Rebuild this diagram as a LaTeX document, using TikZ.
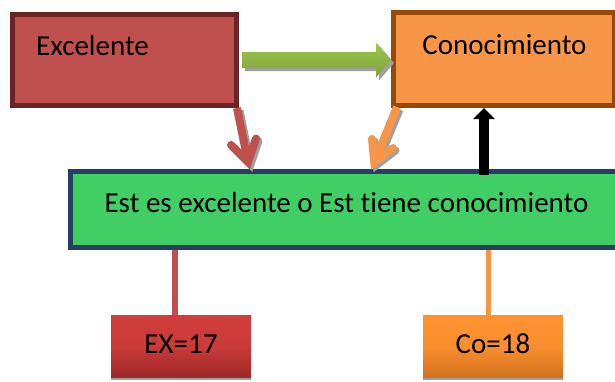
\documentclass[tikz,border=0pt]{standalone}
\usepackage{fontspec}
\setmainfont{Carlito}[Ligatures={NoCommon,NoContextual}]
\usetikzlibrary{calc,arrows.meta}
\definecolor{exfill}{RGB}{192,80,77}
\definecolor{exline}{RGB}{106,36,36}
\definecolor{cofill}{RGB}{247,150,70}
\definecolor{coline}{RGB}{152,72,7}
\definecolor{gfill}{RGB}{64,206,101}
\definecolor{gline}{RGB}{37,62,98}
\definecolor{arrtop}{RGB}{158,196,82}
\definecolor{arrbot}{RGB}{126,164,56}
\definecolor{shadowgray}{RGB}{160,160,160}
\definecolor{rtop}{RGB}{209,62,60}
\definecolor{rbot}{RGB}{154,40,40}
\definecolor{otop}{RGB}{255,147,48}
\definecolor{obot}{RGB}{209,111,30}
\begin{document}
\begin{tikzpicture}[x=1pt,y=-1pt,
  box/.style={rectangle, inner sep=0pt, outer sep=0pt, line width=5pt},
  valbox/.style={rectangle, inner sep=0pt, outer sep=0pt, minimum width=140pt, minimum height=64pt,
    path picture={\draw[line width=1.5pt, shadowgray] (path picture bounding box.south west) -- (path picture bounding box.south east);}},
  lbl/.style={inner sep=0pt, anchor=base, font=\fontsize{29}{34}\selectfont},
  shaftline/.style={line width=8pt, line cap=butt},
  chevron/.style={line width=8pt, line cap=round, line join=miter},
  shadowcopy/.style={draw=shadowgray, transform canvas={shift={(2.5pt,-2.5pt)}}},
  link/.style={line width=#1},
]
\useasboundingbox (0,0) rectangle (615,381);
\clip (0,0) rectangle (615,381);

% boxes
\node[box, fill=exfill, draw=exline, minimum width=224pt, minimum height=91pt] (exb) at (124.5,60) {};
\node[box, fill=cofill, draw=coline, minimum width=221pt, minimum height=93pt] (conb) at (504,59) {};
\node[box, fill=gfill, draw=gline, minimum width=567pt, minimum height=76pt] (gb) at (354,209.5) {};
\node[valbox, top color=rtop, bottom color=rbot, middle color=rtop!85!rbot] (exv) at (181,347) {};
\node[valbox, top color=otop, bottom color=obot, middle color=otop!85!obot] (cov) at (493,347) {};

% texts
\node[lbl, anchor=base west] (t1) at (36,55) {Excelente};
\node[lbl] (t2) at (504.5,54) {Conocimiento};
\node[lbl] (t3) at (346.5,212) {Est es excelente o Est tiene conocimiento};
\node[lbl] (t4) at (181,353) {EX=17};
\node[lbl] (t5) at (493,353) {Co=18};

% vertical links
\draw[link=6pt, exfill] ($(174.5,0 |- gb.south)+(0,2.5)$) -- (174.5,0 |- exv.north);
\draw[link=5pt, cofill] ($(488.5,0 |- gb.south)+(0,2.5)$) -- (488.5,0 |- cov.north);

% green block arrow
\coordinate (ga) at ($(exb.east)+(5.5,0)$);
\coordinate (gt) at ($(conb.west)+(-2.5,1)$);
\fill[shadowgray, transform canvas={shift={(3pt,-3pt)}}]
  ($(ga)+(0,-8)$) -- ($(gt)+(-15,-8)$) -- ($(gt)+(-15,-17.5)$) -- (gt) -- ($(gt)+(-15,17.5)$) -- ($(gt)+(-15,8)$) -- ($(ga)+(0,8)$) -- cycle;
\shade[top color=arrtop, bottom color=arrbot]
  ($(ga)+(0,-8)$) -- ($(gt)+(-15,-8)$) -- ($(gt)+(-15,-17.5)$) -- (gt) -- ($(gt)+(-15,17.5)$) -- ($(gt)+(-15,8)$) -- ($(ga)+(0,8)$) -- cycle;

% red arrow
\coordinate (rS) at ($(237,0 |- exb.south)+(0,2.5)$);
\coordinate (rV) at (248,162);
\coordinate (rA) at ($(rV)+(-17,-17)$);
\coordinate (rB) at ($(rV)+(8,-23.5)$);
\draw[shaftline, shadowcopy] (rS) -- (rV);
\draw[chevron, shadowcopy] (rA) -- (rV) -- (rB);
\draw[shaftline, exfill] (rS) -- (rV);
\draw[chevron, exfill] (rA) -- (rV) -- (rB);

% orange arrow
\coordinate (oS) at ($(397,0 |- conb.south)+(0,1.5)$);
\coordinate (oV) at (374.3,162.2);
\coordinate (oA) at ($(oV)+(-2.3,-23.2)$);
\coordinate (oB) at ($(oV)+(18.7,-14.2)$);
\draw[shaftline, shadowcopy] (oS) -- (oV);
\draw[chevron, shadowcopy] (oA) -- (oV) -- (oB);
\draw[shaftline, cofill] (oS) -- (oV);
\draw[chevron, cofill] (oA) -- (oV) -- (oB);

% black arrow
\draw[line width=10pt, -{Triangle[length=11pt, width=21pt]}] ($(484,0 |- gb.north)+(0,3.5)$) -- ($(484,0 |- conb.south)+(0,2.5)$);
\end{tikzpicture}
\end{document}
